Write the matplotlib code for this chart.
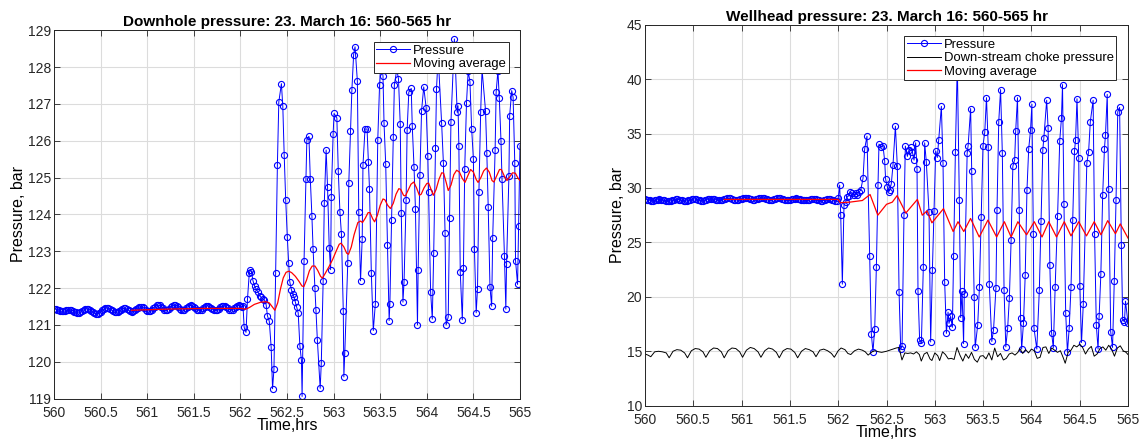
import matplotlib
matplotlib.use("Agg")
import matplotlib.pyplot as plt
import numpy as np

plt.rcParams['font.family'] = ['Liberation Sans', 'DejaVu Sans']

# sample times of the steady part (1 min sampling), hours
flat_t = [560.000, 560.017, 560.033, 560.050, 560.067, 560.083, 560.100, 560.117, 560.133, 560.150, 560.167,
          560.183, 560.200, 560.217, 560.233, 560.250, 560.267, 560.283, 560.300, 560.317, 560.333, 560.350,
          560.367, 560.383, 560.400, 560.417, 560.433, 560.450, 560.467, 560.483, 560.500, 560.517, 560.533,
          560.550, 560.567, 560.583, 560.600, 560.617, 560.633, 560.650, 560.667, 560.683, 560.700, 560.717,
          560.733, 560.750, 560.767, 560.783, 560.800, 560.817, 560.833, 560.850, 560.867, 560.883, 560.900,
          560.917, 560.933, 560.950, 560.967, 560.983, 561.000, 561.017, 561.033, 561.050, 561.067, 561.083,
          561.100, 561.117, 561.133, 561.150, 561.167, 561.183, 561.200, 561.217, 561.233, 561.250, 561.267,
          561.283, 561.300, 561.317, 561.333, 561.350, 561.367, 561.383, 561.400, 561.417, 561.433, 561.450,
          561.467, 561.483, 561.500, 561.517, 561.533, 561.550, 561.567, 561.583, 561.600, 561.617, 561.633,
          561.650, 561.667, 561.683, 561.700, 561.717, 561.733, 561.750, 561.767, 561.783, 561.800, 561.817,
          561.833, 561.850, 561.867, 561.883, 561.900, 561.917, 561.933, 561.950, 561.967, 561.983, 562.000]

# ---------------- Downhole pressure (left) ----------------
dh_flat_p = [121.44, 121.43, 121.42, 121.40, 121.38, 121.37, 121.37, 121.38, 121.40, 121.42, 121.42,
             121.41, 121.39, 121.36, 121.34, 121.33, 121.33, 121.35, 121.38, 121.41, 121.43, 121.44,
             121.43, 121.41, 121.38, 121.35, 121.32, 121.30, 121.30, 121.32, 121.36, 121.40, 121.43,
             121.45, 121.46, 121.46, 121.44, 121.41, 121.38, 121.35, 121.34, 121.35, 121.38, 121.41,
             121.43, 121.45, 121.45, 121.43, 121.40, 121.37, 121.36, 121.37, 121.40, 121.44, 121.47,
             121.49, 121.50, 121.49, 121.46, 121.42, 121.39, 121.38, 121.39, 121.42, 121.46, 121.50,
             121.53, 121.54, 121.53, 121.50, 121.46, 121.42, 121.40, 121.41, 121.44, 121.48, 121.52,
             121.54, 121.54, 121.52, 121.48, 121.44, 121.41, 121.40, 121.42, 121.45, 121.49, 121.52,
             121.53, 121.52, 121.49, 121.45, 121.42, 121.40, 121.40, 121.42, 121.46, 121.50, 121.52,
             121.52, 121.50, 121.47, 121.43, 121.41, 121.40, 121.41, 121.44, 121.48, 121.51, 121.52,
             121.51, 121.48, 121.45, 121.42, 121.41, 121.42, 121.45, 121.49, 121.52, 121.53, 121.52]
dh_osc_t = [562.017, 562.028,
            562.040, 562.060, 562.076, 562.095, 562.107, 562.118, 562.135, 562.152, 562.170, 562.188,
            562.205, 562.222, 562.240, 562.258, 562.276, 562.290, 562.310, 562.330, 562.345, 562.360,
            562.378, 562.397, 562.412, 562.440, 562.455, 562.470, 562.486, 562.503, 562.518, 562.530,
            562.548, 562.562, 562.576, 562.590, 562.605, 562.620, 562.638, 562.655, 562.662, 562.683,
            562.703, 562.713, 562.735, 562.750, 562.767, 562.780, 562.800, 562.812, 562.826, 562.856,
            562.868, 562.888, 562.900, 562.920, 562.935, 562.953, 562.968, 562.975, 562.995, 563.005,
            563.035, 563.050, 563.068, 563.084, 563.104, 563.110, 563.120, 563.152, 563.163, 563.181,
            563.196, 563.215, 563.230, 563.255, 563.270, 563.289, 563.307, 563.315, 563.337, 563.359,
            563.373, 563.385, 563.405, 563.426, 563.448, 563.474, 563.493, 563.510, 563.530, 563.541,
            563.559, 563.578, 563.596, 563.604, 563.622, 563.641, 563.652, 563.678, 563.696, 563.715,
            563.726, 563.744, 563.756, 563.778, 563.789, 563.807, 563.833, 563.844, 563.863, 563.878,
            563.900, 563.907, 563.926, 563.944, 563.967, 563.993, 564.011, 564.019, 564.041, 564.059,
            564.074, 564.093, 564.104, 564.122, 564.159, 564.178, 564.196, 564.207, 564.230, 564.244,
            564.259, 564.296, 564.326, 564.335, 564.344, 564.359, 564.381, 564.393, 564.407, 564.426,
            564.444, 564.463, 564.481, 564.500, 564.511, 564.530, 564.544, 564.559, 564.578, 564.593,
            564.630, 564.644, 564.659, 564.678, 564.696, 564.707, 564.733, 564.744, 564.763, 564.778,
            564.796, 564.807, 564.833, 564.848, 564.856, 564.881, 564.889, 564.911, 564.926, 564.944,
            564.952, 564.974, 564.985, 565.000]
dh_osc_p = [121.50, 121.52,
            120.94, 120.80, 121.70, 122.40, 122.50, 122.45, 122.20, 122.06, 121.97, 121.90,
            121.80, 121.75, 121.70, 121.68, 121.55, 121.25, 121.10, 120.40, 119.27, 119.80,
            122.40, 125.35, 127.05, 127.55, 126.93, 125.60, 124.40, 123.40, 122.67, 122.17,
            121.95, 121.85, 121.75, 121.62, 121.48, 121.33, 120.44, 120.04, 119.06, 122.75,
            124.97, 126.03, 126.12, 124.97, 123.97, 123.05, 122.00, 121.40, 120.58, 119.28,
            119.97, 122.20, 124.30, 125.75, 124.75, 123.10, 122.50, 124.47, 126.19, 126.74,
            126.62, 125.19, 124.06, 123.47, 121.37, 119.59, 120.24, 122.68, 124.85, 126.27,
            127.37, 128.34, 128.55, 127.62, 124.06, 122.20, 123.34, 125.33, 126.32, 126.32,
            125.43, 124.70, 122.40, 120.85, 121.58, 126.03, 127.50, 128.30, 127.75, 126.48,
            125.37, 123.18, 121.12, 121.58, 123.86, 126.10, 127.52, 127.93, 127.68, 126.46,
            124.04, 121.62, 122.17, 124.40, 126.30, 127.32, 127.42, 126.40, 125.28, 124.16,
            121.00, 122.50, 125.08, 126.82, 127.46, 126.90, 125.58, 124.60, 121.90, 121.16,
            122.95, 125.80, 127.40, 128.30, 126.48, 125.40, 123.50, 121.00, 121.22, 123.90,
            126.50, 128.76, 126.77, 126.95, 125.85, 122.43, 121.14, 122.55, 125.24, 127.03,
            127.89, 127.60, 126.33, 125.50, 123.06, 121.33, 121.98, 124.60, 126.78, 127.93,
            126.82, 125.67, 124.19, 122.02, 121.51, 123.36, 125.74, 127.32, 127.90, 127.15,
            126.00, 124.95, 122.88, 121.43, 122.66, 125.04, 126.68, 127.36, 127.18, 125.40,
            122.75, 122.10, 123.70, 125.87]
dh_ma_t = [560.83, 561.20, 561.60, 562.00, 562.06, 562.10, 562.15, 562.22, 562.28, 562.31,
           562.34, 562.37, 562.40, 562.43, 562.46, 562.49, 562.52, 562.55, 562.59, 562.63,
           562.66, 562.68, 562.71, 562.74, 562.77, 562.80, 562.83, 562.86, 562.88, 562.91,
           562.95, 562.99, 563.03, 563.06, 563.08, 563.11, 563.14, 563.16, 563.19, 563.22,
           563.26, 563.29, 563.31, 563.34, 563.37, 563.39, 563.42, 563.44, 563.47, 563.50,
           563.53, 563.55, 563.58, 563.61, 563.64, 563.67, 563.70, 563.72, 563.75, 563.77,
           563.80, 563.83, 563.86, 563.89, 563.92, 563.94, 563.97, 564.00, 564.02, 564.05,
           564.07, 564.10, 564.13, 564.16, 564.18, 564.21, 564.23, 564.26, 564.29, 564.32,
           564.35, 564.38, 564.41, 564.44, 564.47, 564.50, 564.53, 564.55, 564.58, 564.61,
           564.64, 564.67, 564.70, 564.72, 564.75, 564.78, 564.80, 564.83, 564.86, 564.89,
           564.92, 564.95, 564.98, 565.00]
dh_ma_p = [121.40, 121.43, 121.45, 121.45, 121.43, 121.48, 121.56, 121.62, 121.63, 121.60,
           121.50, 121.40, 121.60, 121.98, 122.28, 122.43, 122.46, 122.42, 122.32, 122.18,
           122.06, 122.04, 122.22, 122.47, 122.60, 122.60, 122.48, 122.32, 122.27, 122.40,
           122.58, 122.78, 123.02, 123.19, 123.22, 123.12, 122.95, 122.92, 123.12, 123.45,
           123.78, 123.82, 123.78, 123.90, 124.05, 124.05, 123.88, 123.80, 123.98, 124.25,
           124.42, 124.40, 124.25, 124.16, 124.30, 124.55, 124.70, 124.68, 124.52, 124.50,
           124.66, 124.82, 124.88, 124.72, 124.52, 124.55, 124.72, 124.84, 124.85, 124.65,
           124.52, 124.68, 124.95, 125.13, 125.12, 124.85, 124.65, 124.80, 125.08, 125.20,
           125.15, 124.98, 124.87, 125.05, 125.22, 125.15, 124.95, 124.87, 125.00, 125.18,
           125.26, 125.15, 124.92, 124.88, 125.05, 125.22, 125.22, 125.05, 124.92, 125.02,
           125.13, 125.12, 124.98, 124.92]

# ---------------- Wellhead pressure (right) ----------------
wh_flat_p = [28.95, 28.93, 28.90, 28.87, 28.85, 28.85, 28.87, 28.90, 28.93, 28.95, 28.94,
             28.91, 28.87, 28.83, 28.80, 28.80, 28.83, 28.87, 28.92, 28.95, 28.96, 28.94,
             28.90, 28.86, 28.82, 28.80, 28.82, 28.86, 28.91, 28.96, 28.99, 29.00, 28.97,
             28.92, 28.87, 28.84, 28.84, 28.87, 28.92, 28.97, 29.01, 29.03, 29.01, 28.97,
             28.92, 28.88, 28.86, 28.87, 28.91, 28.96, 29.01, 29.05, 29.06, 29.04, 28.99,
             28.94, 28.91, 28.90, 28.92, 28.97, 29.03, 29.08, 29.12, 29.12, 29.08, 29.02,
             28.96, 28.93, 28.93, 28.96, 29.01, 29.06, 29.10, 29.11, 29.08, 29.03, 28.98,
             28.94, 28.92, 28.93, 28.97, 29.02, 29.06, 29.08, 29.06, 29.02, 28.97, 28.93,
             28.90, 28.89, 28.91, 28.95, 29.00, 29.03, 29.04, 29.01, 28.96, 28.91, 28.88,
             28.86, 28.86, 28.89, 28.94, 28.98, 29.00, 28.99, 28.95, 28.90, 28.86, 28.84,
             28.84, 28.86, 28.91, 28.96, 28.99, 28.98, 28.94, 28.89, 28.85, 28.84, 29.05]
wh_osc_t = [562.015,
            562.026, 562.043, 562.060, 562.077, 562.095, 562.112, 562.126, 562.146, 562.160, 562.181,
            562.198, 562.215, 562.233, 562.257, 562.274, 562.298, 562.326, 562.343, 562.360, 562.378,
            562.395, 562.412, 562.422, 562.440, 562.464, 562.481, 562.491, 562.509, 562.523, 562.533,
            562.550, 562.567, 562.592, 562.612, 562.630, 562.647, 562.661, 562.681, 562.695, 562.716,
            562.733, 562.750, 562.768, 562.785, 562.802, 562.816, 562.826, 562.843, 562.861, 562.881,
            562.895, 562.912, 562.940, 562.957, 562.975, 562.992, 563.009, 563.026, 563.040, 563.068,
            563.085, 563.102, 563.120, 563.137, 563.147, 563.164, 563.182, 563.195, 563.213, 563.233,
            563.254, 563.268, 563.282, 563.298, 563.305, 563.335, 563.345, 563.371, 563.382, 563.407,
            563.418, 563.444, 563.462, 563.480, 563.499, 563.517, 563.535, 563.553, 563.564, 563.590,
            563.608, 563.633, 563.644, 563.662, 563.681, 563.699, 563.717, 563.735, 563.754, 563.772,
            563.790, 563.808, 563.827, 563.837, 563.856, 563.874, 563.888, 563.899, 563.918, 563.936,
            563.954, 563.972, 563.991, 564.005, 564.020, 564.027, 564.056, 564.082, 564.100, 564.118,
            564.129, 564.158, 564.173, 564.191, 564.209, 564.227, 564.246, 564.271, 564.293, 564.311,
            564.322, 564.337, 564.355, 564.373, 564.391, 564.410, 564.428, 564.446, 564.457, 564.472,
            564.490, 564.501, 564.519, 564.537, 564.574, 564.592, 564.610, 564.639, 564.654, 564.672,
            564.690, 564.701, 564.719, 564.738, 564.756, 564.767, 564.785, 564.800, 564.821, 564.840,
            564.858, 564.876, 564.894, 564.913, 564.931, 564.945, 564.963, 564.974, 565.000]
wh_osc_p = [30.26,
            27.50, 21.17, 28.43, 28.70, 29.20, 29.30, 29.65, 29.50, 29.35, 29.50,
            29.35, 29.65, 29.80, 30.88, 33.60, 34.76, 23.74, 16.58, 14.96, 17.07,
            22.70, 30.26, 34.03, 33.80, 33.85, 32.50, 30.80, 30.10, 29.65, 29.80,
            30.40, 32.10, 35.68, 32.00, 20.47, 15.20, 15.48, 27.50, 33.85, 32.90,
            33.50, 33.73, 33.30, 32.56, 34.15, 31.70, 20.56, 16.03, 15.72, 22.70,
            34.15, 32.40, 27.80, 15.85, 22.45, 27.90, 33.40, 32.80, 34.40, 37.50,
            32.30, 21.40, 16.64, 18.60, 17.56, 18.20, 17.20, 23.74, 33.30, 41.50,
            28.90, 18.10, 20.50, 15.70, 20.30, 33.20, 33.90, 37.30, 31.60, 20.00,
            15.35, 17.40, 20.90, 27.30, 33.90, 35.10, 38.30, 33.80, 21.20, 15.90,
            16.97, 20.80, 28.00, 36.10, 39.04, 33.20, 20.60, 15.40, 17.10, 19.90,
            25.20, 32.00, 32.60, 35.20, 38.30, 28.00, 18.10, 15.20, 17.60, 22.00,
            29.80, 33.60, 35.30, 37.70, 25.80, 17.10, 15.20, 20.60, 27.00, 33.50,
            34.60, 38.06, 35.50, 22.90, 16.70, 15.30, 20.90, 27.40, 34.30, 36.40,
            39.50, 28.50, 18.50, 14.90, 17.10, 20.90, 27.10, 33.40, 34.40, 38.20,
            32.80, 21.00, 15.80, 19.30, 32.30, 33.30, 36.10, 38.06, 25.80, 17.40,
            15.20, 18.20, 22.10, 29.40, 33.60, 34.90, 38.60, 29.90, 16.80, 15.35,
            21.50, 28.90, 37.00, 37.40, 24.80, 17.90, 17.70, 19.60, 17.60]
choke_t = [560.00, 560.03, 560.06, 560.10, 560.14, 560.18, 560.22, 560.25, 560.29, 560.33,
           560.37, 560.41, 560.44, 560.48, 560.52, 560.56, 560.60, 560.63, 560.67, 560.71,
           560.75, 560.79, 560.82, 560.86, 560.90, 560.94, 560.98, 561.01, 561.05, 561.09,
           561.13, 561.17, 561.20, 561.24, 561.28, 561.32, 561.36, 561.39, 561.43, 561.47,
           561.51, 561.55, 561.58, 561.62, 561.66, 561.70, 561.74, 561.77, 561.81, 561.85,
           561.89, 561.93, 561.96, 562.00, 562.03, 562.07, 562.10, 562.13, 562.17, 562.21,
           562.25, 562.28, 562.31, 562.35, 562.38, 562.42, 562.45, 562.50, 562.55, 562.60,
           562.63, 562.66, 562.69, 562.72, 562.75, 562.78, 562.81, 562.84, 562.86, 562.89,
           562.92, 562.95, 562.97, 563.00, 563.03, 563.05, 563.08, 563.11, 563.14, 563.17,
           563.20, 563.23, 563.26, 563.29, 563.32, 563.35, 563.38, 563.41, 563.44, 563.47,
           563.50, 563.53, 563.56, 563.59, 563.62, 563.65, 563.68, 563.71, 563.74, 563.77,
           563.80, 563.83, 563.86, 563.88, 563.91, 563.94, 563.97, 564.00, 564.03, 564.06,
           564.09, 564.12, 564.15, 564.18, 564.21, 564.24, 564.27, 564.30, 564.33, 564.35,
           564.38, 564.41, 564.44, 564.47, 564.50, 564.53, 564.56, 564.59, 564.62, 564.65,
           564.68, 564.71, 564.74, 564.77, 564.80, 564.83, 564.86, 564.89, 564.92, 564.95,
           564.98, 565.00]
choke_p = [14.75, 14.65, 14.50, 14.95, 15.00, 14.95, 14.85, 14.40, 15.00, 15.15,
           15.10, 14.85, 14.40, 15.05, 15.25, 15.20, 14.95, 14.45, 15.05, 15.30,
           15.25, 14.95, 14.40, 15.05, 15.30, 15.25, 14.95, 14.45, 15.10, 15.35,
           15.25, 14.95, 14.45, 15.05, 15.30, 15.20, 14.90, 14.40, 15.05, 15.25,
           15.20, 14.90, 14.40, 15.00, 15.25, 15.15, 14.95, 14.50, 15.10, 15.20,
           15.05, 14.80, 14.45, 15.05, 15.30, 15.15, 14.80, 14.70, 15.05, 15.20,
           15.10, 14.95, 14.65, 14.95, 15.05, 14.95, 14.90, 15.00, 15.15, 15.30,
           15.35, 14.20, 14.85, 14.80, 14.85, 14.75, 14.95, 14.70, 14.10, 14.75,
           14.90, 14.30, 14.15, 14.85, 14.60, 14.15, 14.95, 14.70, 14.30, 14.35,
           14.25, 15.35, 14.65, 14.10, 14.75, 14.35, 14.90, 14.25, 14.00, 14.55,
           14.60, 14.30, 14.85, 14.20, 15.30, 14.50, 14.80, 14.20, 14.35, 14.75,
           14.85, 14.65, 14.90, 15.25, 14.80, 15.15, 14.85, 15.20, 15.05, 14.35,
           14.45, 15.35, 15.40, 14.80, 15.30, 15.10, 14.90, 15.05, 14.40, 13.90,
           14.90, 15.10, 15.55, 15.40, 15.65, 15.35, 14.75, 15.20, 15.45, 14.55,
           14.75, 15.25, 15.40, 15.10, 15.55, 15.20, 14.55, 15.30, 15.50, 15.05,
           14.90, 14.70]
wh_ma_t = [560.82, 562.00, 562.02, 562.12, 562.25, 562.33, 562.41, 562.50, 562.56, 562.61,
           562.70, 562.82, 562.87, 562.92, 562.97, 563.09, 563.19, 563.24, 563.30, 563.37,
           563.46, 563.55, 563.64, 563.72, 563.79, 563.86, 563.95, 564.03, 564.11, 564.18,
           564.26, 564.34, 564.41, 564.49, 564.57, 564.65, 564.72, 564.79, 564.87, 564.92,
           565.00]
wh_ma_p = [28.95, 28.95, 28.65, 28.70, 28.85, 29.40, 27.50, 28.50, 28.70, 29.30,
           27.70, 28.95, 27.50, 27.90, 26.80, 28.10, 26.00, 26.90, 26.00, 27.20,
           25.50, 27.05, 25.50, 26.90, 25.50, 26.90, 25.70, 26.90, 25.50, 26.90,
           25.50, 26.90, 25.60, 26.90, 25.60, 26.90, 25.70, 27.00, 25.80, 26.70,
           25.40]

dh_t = flat_t + dh_osc_t
dh_p = dh_flat_p + dh_osc_p
wh_t = flat_t + wh_osc_t
wh_p = wh_flat_p + wh_osc_p

W, H = 1142, 441
fig = plt.figure(figsize=(W / 100, H / 100), dpi=100)
ax1 = fig.add_axes([54 / W, 1 - 398.7 / H, 466 / W, 368.5 / H])
ax2 = fig.add_axes([645 / W, 1 - 405.7 / H, 483 / W, 381 / H])

blue = '#0000ff'
xt = np.arange(560, 565.01, 0.5)


def style(ax, ylim, yticks):
    ax.set_xlim(560, 565)
    ax.set_ylim(*ylim)
    ax.set_xticks(xt)
    ax.set_xticklabels(['%g' % v for v in xt])
    ax.set_yticks(yticks)
    ax.grid(True, color='#dcdcdc', linewidth=0.8)
    ax.set_axisbelow(True)
    ax.tick_params(direction='in', top=True, right=True, length=4, width=0.6,
                   labelsize=10, colors='#262626')
    ax.tick_params(axis='x', pad=5)
    ax.tick_params(axis='y', pad=2)
    for s in ax.spines.values():
        s.set_color('#262626')
        s.set_linewidth(0.7)
    ax.set_xlabel('Time,hrs', fontsize=11.5, labelpad=-1)
    ax.set_ylabel('Pressure, bar', fontsize=11.5, labelpad=1)


def add_legend(ax, anchor):
    leg = ax.legend(loc='upper right', bbox_to_anchor=anchor, fontsize=9.4,
                    fancybox=False, framealpha=1, edgecolor='#262626', borderpad=0.2,
                    labelspacing=0.1, handlelength=2.6, handletextpad=0.25, borderaxespad=0)
    leg.get_frame().set_linewidth(0.7)
    leg.set_zorder(10)
    return leg


mk = dict(marker='o', markersize=4.4, markerfacecolor='none', markeredgewidth=0.8)

ax1.plot(dh_t, dh_p, color=blue, linewidth=0.7, label='Pressure', **mk)
ax1.plot(dh_ma_t, dh_ma_p, color='#ff0000', linewidth=0.9, label='Moving average')
style(ax1, (119, 129), np.arange(119, 130, 1))
ax1.set_title('Downhole pressure: 23. March 16: 560-565 hr', fontsize=11,
              fontweight='bold', pad=3)
add_legend(ax1, (0.976, 0.968))

ax2.plot(wh_t, wh_p, color=blue, linewidth=0.7, label='Pressure', **mk)
ax2.plot(choke_t, choke_p, color='black', linewidth=0.7, label='Down-stream choke pressure')
ax2.plot(wh_ma_t, wh_ma_p, color='#ff0000', linewidth=0.9, label='Moving average')
style(ax2, (10, 45), np.arange(10, 46, 5))
ax2.set_title('Wellhead pressure: 23. March 16: 560-565 hr', fontsize=11,
              fontweight='bold', pad=3)
add_legend(ax2, (0.976, 0.970))

fig.savefig('out.png', dpi=100)
